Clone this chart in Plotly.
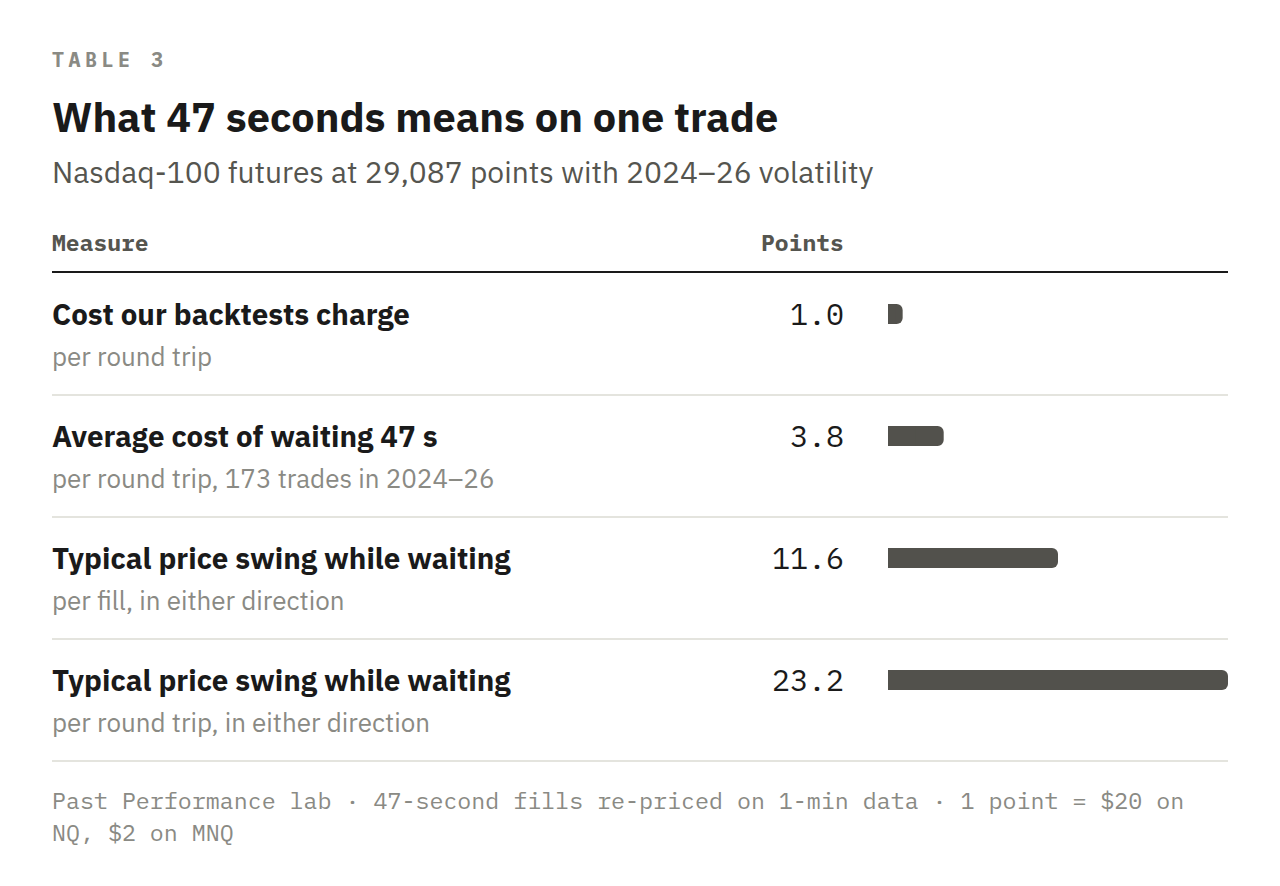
import plotly.graph_objects as go

# table content
measures = [
    "Cost our backtests charge",
    "Average cost of waiting 47 s",
    "Typical price swing while waiting",
    "Typical price swing while waiting",
]
notes = [
    "per round trip",
    "per round trip, 173 trades in 2024\u201326",
    "per fill, in either direction",
    "per round trip, in either direction",
]
points = [1.0, 3.8, 11.6, 23.2]
rows = list(range(len(points)))

kicker = "TABLE 3"
title = "What 47 seconds means on one trade"
subtitle = "Nasdaq-100 futures at 29,087 points with 2024\u201326 volatility"
col_headers = ["Measure", "Points"]
footer_lines = [
    "Past Performance lab \u00b7 47-second fills re-priced on 1-min data \u00b7 1 point = $20 on",
    "NQ, $2 on MNQ",
]

# page is 1280x886, the html body adds an 8px margin round the figure
PAD = 8
W, H = 1280 - 2 * PAD, 886 - 2 * PAD
SANS = "IBM Plex Sans, Roboto, sans-serif"
MONO = "IBM Plex Mono, DejaVu Sans Mono, monospace"
INK = "#1a1a1a"
GREY = "#8a8a84"
BAR = "#52514c"
RULE = "#e4e4de"
ROW_TOP = 314      # centre of first bar, page px
ROW_STEP = 122


def px(x):
    return (x - PAD) / W


def py(y):
    return 1 - (y - PAD) / H


def note(text, x, y, size, color, family=SANS, xanchor="left"):
    return dict(text=text, x=px(x), y=py(y), xref="paper", yref="paper",
                xanchor=xanchor, yanchor="middle", showarrow=False,
                borderpad=0, borderwidth=0,
                font=dict(family=family, size=size, color=color))


fig = go.Figure()
# rounded bar, then a square one over its left half so only the right end is round
fig.add_trace(go.Bar(x=points, y=rows, orientation="h", width=20 / ROW_STEP,
                     marker=dict(color=BAR, cornerradius=6, line_width=0),
                     hoverinfo="skip"))
fig.add_trace(go.Bar(x=[p / 2 for p in points], y=rows, orientation="h", width=20 / ROW_STEP,
                     marker=dict(color=BAR, line_width=0), hoverinfo="skip"))

anns = [
    note("<span style='letter-spacing:4.5px'><b>%s</b></span>" % kicker, 52, 59, 20, GREY, MONO),
    note("<b>%s</b>" % title, 52, 116, 41.5, INK),
    note(subtitle, 52, 172, 30, "#55554f"),
    note("<b>%s</b>" % col_headers[0], 52, 242, 23, "#55554f", MONO),
    note("<b>%s</b>" % col_headers[1], 844, 242, 23, "#55554f", MONO, "right"),
]
for i in rows:
    yc = ROW_TOP + i * ROW_STEP
    anns.append(note("<b>%s</b>" % measures[i], 52, yc, 29.5, INK))
    anns.append(note(notes[i], 52, yc + 42, 26, GREY))
    anns.append(note("%.1f" % points[i], 844, yc - 1, 30, INK, MONO, "right"))
for j, line in enumerate(footer_lines):
    anns.append(note(line, 52, 800 + 32 * j, 23.3, GREY, MONO))

shapes = [dict(type="line", xref="paper", yref="paper", x0=px(52), x1=px(1228),
               y0=py(272), y1=py(272), line=dict(color=INK, width=2))]
for i in rows:
    ys = ROW_TOP + i * ROW_STEP + 81
    shapes.append(dict(type="line", xref="paper", yref="paper", x0=px(52), x1=px(1228),
                       y0=py(ys), y1=py(ys), line=dict(color=RULE, width=2)))

fig.update_layout(
    width=W, height=H,
    margin=dict(l=0, r=0, t=0, b=0),
    paper_bgcolor="white", plot_bgcolor="rgba(0,0,0,0)",
    barmode="overlay", showlegend=False,
    annotations=anns, shapes=shapes,
    xaxis=dict(domain=[px(888), px(1228)], range=[0, max(points)],
               visible=False, fixedrange=True),
    yaxis=dict(domain=[0, 1],
               range=[(H + PAD - ROW_TOP) / ROW_STEP, (PAD - ROW_TOP) / ROW_STEP],
               visible=False, fixedrange=True),
)

fig.write_html("out.html", config={"displayModeBar": False})
